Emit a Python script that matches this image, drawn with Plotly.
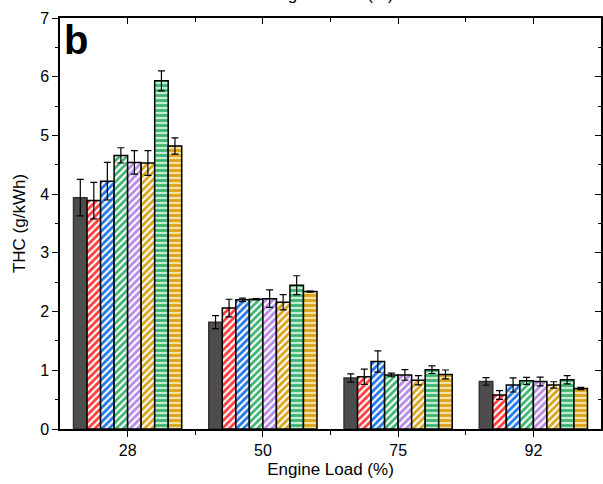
import plotly.graph_objects as go

categories = ["28", "50", "75", "92"]
series_names = ["S1", "S2", "S3", "S4", "S5", "S6", "S7", "S8"]
values = [
    [3.94, 1.82, 0.87, 0.81],
    [3.89, 2.06, 0.89, 0.58],
    [4.22, 2.20, 1.15, 0.75],
    [4.66, 2.21, 0.92, 0.82],
    [4.54, 2.22, 0.92, 0.81],
    [4.53, 2.16, 0.83, 0.75],
    [5.93, 2.45, 1.01, 0.84],
    [4.82, 2.34, 0.93, 0.69],
]
errors = [
    [0.31, 0.11, 0.07, 0.065],
    [0.31, 0.15, 0.13, 0.075],
    [0.32, 0.03, 0.18, 0.12],
    [0.13, 0.01, 0.03, 0.06],
    [0.20, 0.15, 0.09, 0.075],
    [0.21, 0.13, 0.08, 0.055],
    [0.17, 0.16, 0.065, 0.07],
    [0.14, 0.01, 0.075, 0.02],
]
shapes = ["", "/", "/", "/", "/", "/", "-", "-"]
fgcolors = ["#4d4d4d", "#ff3b3b", "#1f77e8", "#3cb371", "#b68ae6", "#d9a31a", "#3cb371", "#d9a31a"]
bgcolors = ["#4d4d4d", "#ffffff", "#ffffff", "#ffffff", "#ffffff", "#ffffff", "#c6ecd3", "#f5e2a8"]

xpos = list(range(len(categories)))

fig = go.Figure()
for i, name in enumerate(series_names):
    fig.add_trace(go.Bar(
        x=xpos, y=values[i], name=name,
        marker=dict(
            color=bgcolors[i],
            line=dict(color="#000000" if i else "#333333", width=1.5),
            pattern=dict(shape=shapes[i], fgcolor=fgcolors[i], bgcolor=bgcolors[i],
                         size=5, solidity=0.55, fillmode="replace"),
        ),
        error_y=dict(type="data", array=errors[i], color="#000000", thickness=1.2, width=3.5),
        showlegend=False,
    ))

# invisible trace for mirrored top/right axes
fig.add_trace(go.Scatter(x=[0], y=[0], xaxis="x2", yaxis="y2", mode="markers",
                         marker=dict(opacity=0), showlegend=False, hoverinfo="skip"))

font_family = "Liberation Sans, Arial, sans-serif"

fig.update_layout(
    width=603, height=484,
    margin=dict(l=60, r=2, t=18, b=55),
    plot_bgcolor="white", paper_bgcolor="white",
    barmode="group", bargap=0.2, bargroupgap=0,
    font=dict(family=font_family, size=16, color="black"),
    xaxis=dict(
        range=[-0.5, 3.5], tickmode="array", tickvals=xpos, ticktext=categories,
        ticks="outside", ticklen=6, tickwidth=1.2, tickcolor="black",
        showline=True, linecolor="black", linewidth=1.5, showgrid=False, zeroline=False,
        minor=dict(tickmode="array", tickvals=[0.5, 1.5, 2.5], ticks="outside", ticklen=4,
                   tickcolor="black", tickwidth=1.2),
        title=dict(text="Engine Load (%)", font=dict(size=17), standoff=5),
        tickfont=dict(size=16),
    ),
    yaxis=dict(
        range=[0, 7], tickmode="linear", tick0=0, dtick=1,
        ticks="outside", ticklen=6, tickwidth=1.2, tickcolor="black",
        showline=True, linecolor="black", linewidth=1.5, showgrid=False, zeroline=False,
        minor=dict(tick0=0.5, dtick=1, ticks="outside", ticklen=3, tickcolor="black", tickwidth=1.2),
        title=dict(text="THC (g/kWh)", font=dict(size=17), standoff=10),
        tickfont=dict(size=16),
    ),
    xaxis2=dict(
        overlaying="x", side="top", range=[-0.5, 3.5], tickmode="array", tickvals=xpos,
        ticks="inside", ticklen=6, tickwidth=1.2, tickcolor="black", showticklabels=False,
        showline=True, linecolor="black", linewidth=1.5, showgrid=False, zeroline=False,
        minor=dict(tickmode="array", tickvals=[0.5, 1.5, 2.5], ticks="inside", ticklen=4,
                   tickcolor="black", tickwidth=1.2),
    ),
    yaxis2=dict(
        overlaying="y", side="right", range=[0, 7], tickmode="linear", tick0=0, dtick=1,
        ticks="inside", ticklen=6, tickwidth=1.2, tickcolor="black", showticklabels=False,
        showline=True, linecolor="black", linewidth=1.5, showgrid=False, zeroline=False,
        minor=dict(tick0=0.5, dtick=1, ticks="inside", ticklen=3, tickcolor="black", tickwidth=1.2),
    ),
    annotations=[
        dict(text="<b>b</b>", xref="paper", yref="paper", x=0, y=1, xanchor="left", yanchor="top",
             xshift=2, yshift=2, showarrow=False, font=dict(size=40, family=font_family)),
        dict(text="Engine Load (%)", xref="paper", yref="paper", x=0.5, y=1, xanchor="center",
             yanchor="bottom", yshift=12, showarrow=False, font=dict(size=17, family=font_family)),
    ],
)

fig.write_html("out.html")
